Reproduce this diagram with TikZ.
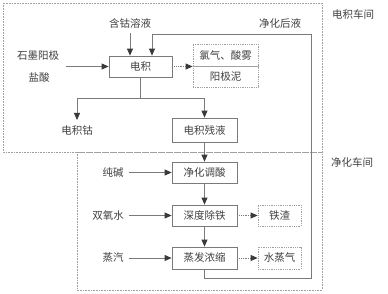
\documentclass[tikz,border=0pt]{standalone}
\usepackage{fontspec}
\newfontfamily\cjk{Noto Sans CJK SC}
\usetikzlibrary{arrows.meta}
\definecolor{linec}{HTML}{7A7A7A}
\definecolor{textc}{HTML}{404040}
\definecolor{headc}{HTML}{3A3A3A}
\definecolor{dotc}{HTML}{A0A0A0}
\begin{document}
\begin{tikzpicture}[x=1pt,y=-1pt,
  font=\cjk\fontsize{10.5}{12}\selectfont,
  every node/.style={text=textc},
  proc/.style={draw=linec, line width=0.8pt, minimum width=65pt, minimum height=21pt, inner sep=0pt},
  outp/.style={draw=dotc, densely dotted, line width=0.8pt, minimum width=43pt, minimum height=21pt, inner sep=0pt},
  lbl/.style={inner sep=2pt},
  arr/.style={draw=linec, line width=0.8pt, -{Triangle[length=7pt,width=6pt,color=headc]}},
  darr/.style={draw=linec, densely dotted, line width=0.8pt, -{Triangle[length=7pt,width=6pt,color=headc]}},
  zone/.style={draw=dotc, densely dotted, line width=0.6pt}
]
\useasboundingbox (0,0) rectangle (388,293);
% zones
\draw[zone] (3,3) rectangle (322,152);
\draw[zone] (77,152) rectangle (322,290);
\node[lbl] (z1) at (353,14) {电积车间};
\node[lbl] (z2) at (352,162) {净化车间};
% process boxes
\node[proc, minimum width=63pt] (dj) at (140.5,66.5) {电积};
\node[proc, minimum height=24pt] (djcy) at (204.5,130) {电积残液};
\node[proc] (jhts) at (204.5,172.5) {净化调酸};
\node[proc] (sdct) at (204.5,215.5) {深度除铁};
\node[proc, minimum height=22pt] (zfns) at (204.5,258) {蒸发浓缩};
% output boxes
\node[outp, minimum width=65pt, minimum height=22pt] (gas1) at (225.5,55) {氯气、酸雾};
\node[outp, minimum width=65pt, minimum height=21pt] (gas2) at (225.5,76.5) {阳极泥};
\node[outp] (tz) at (279.5,215.5) {铁渣};
\node[outp, minimum height=22pt] (szq) at (279.5,258) {水蒸气};
% text labels
\node[lbl] (hgry) at (130,23) {含钴溶液};
\node[lbl] (jhhy) at (280,23) {净化后液};
\node[lbl] (smyj) at (38,56) {石墨阳极};
\node[lbl] (ys) at (39,78) {盐酸};
\node[lbl] (djg) at (77,131) {电积钴};
\node[lbl] (cj) at (113,172.5) {纯碱};
\node[lbl] (sys) at (108,215.5) {双氧水};
\node[lbl] (zq) at (113,258) {蒸汽};
% connectors
\draw[arr] ([yshift=-3pt]hgry.south) -- (hgry.south |- dj.north);
\coordinate (lp) at (311,34);
\draw[arr] (zfns.south) -- ++(0,9) -| (lp) -| ([xshift=11.5pt]dj.north);
\coordinate (in1) at (66,66.5);
\draw[arr] (in1) -- (dj.west);
\draw[darr] (dj.east) -- (dj.east -| gas1.west);
\draw[linec, line width=0.8pt] (dj.south) -- ++(0,21) coordinate (br);
\draw[arr] (br) -| ([yshift=4pt]djg.north);
\draw[arr] (br) -| (djcy.north);
\draw[arr] (djcy.south) -- (jhts.north);
\draw[arr] (jhts.south) -- (sdct.north);
\draw[arr] (sdct.south) -- (zfns.north);
\draw[arr] ([xshift=3pt]cj.east) -- (jhts.west);
\draw[arr] ([xshift=3pt]sys.east) -- (sdct.west);
\draw[arr] ([xshift=3pt]zq.east) -- (zfns.west);
\draw[darr] (sdct.east) -- (tz.west);
\draw[darr] (zfns.east) -- (szq.west);
\end{tikzpicture}
\end{document}
